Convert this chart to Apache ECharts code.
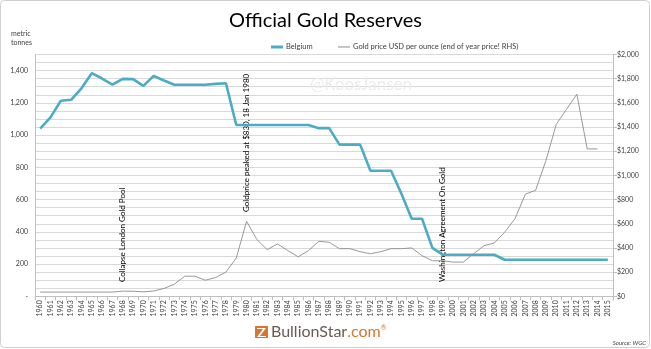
<!DOCTYPE html>
<html><head><meta charset="utf-8">
<script src="https://cdn.jsdelivr.net/npm/echarts@6/dist/echarts.min.js"></script>
<style>html,body{margin:0;padding:0;background:#fff}#c{width:651px;height:349px}</style>
</head><body><div id="c"></div>
<script>
var years = [];
for (var y = 1960; y <= 2015; y++) years.push(String(y));
var belgium = [1040,1110,1213,1219,1290,1384,1351,1313,1349,1347,1305,1367,1339,1312,1312,1312,1312,1318,1322,1063,
1063,1063,1063,1063,1063,1063,1063,1043,1043,941,941,941,779,779,779,636,481,481,300,258,
258,258,258,258,258,227,227,227,227,227,227,227,227,227,227,227];
var goldPrice = [35,35,35,35,35,35,35,35,43,42,37,44,65,100,166,166,133,155,200,317,
620,469,386,433,378,327,378,455,447,394,394,369,352,369,394,394,400,336,294,294,
283,283,352,419,441,530,641,844,877,1122,1422,1547,1672,1219,1219,null];
var leftTicks = [0,200,400,600,800,1000,1200,1400];
var rightTicks = [0,200,400,600,800,1000,1200,1400,1600,1800,2000];
var notes = [
  {year:'1968', text:'Collapse London Gold Pool', base:282},
  {year:'1980', text:'Goldprice peaked at $830, 18 Jan 1980', base:212},
  {year:'1999', text:'Washington Agreement On Gold', base:282}
];
var FONT = 'Lato, "Open Sans", sans-serif';
var S1 = 'Belgium', S2 = 'Gold price USD per ounce (end of year price! RHS)';
var chart = echarts.init(document.getElementById('c'));
function fmtNum(v){return v===0?'-':v.toLocaleString('en-US');}
chart.setOption({
  animation:false,
  textStyle:{fontFamily:FONT},
  title:{text:'Official Gold Reserves',left:'center',top:6,textStyle:{fontFamily:FONT,fontSize:20,fontWeight:'normal',color:'#000'}},
  legend:[
    {top:38,left:266,itemGap:4,itemWidth:12,itemHeight:3,textStyle:{fontFamily:FONT,fontSize:7.5,color:'#404040',padding:[0,0,0,-2]},
     data:[{name:S1,icon:'rect'}]},
    {top:38,left:333,itemGap:4,itemWidth:12,itemHeight:1,textStyle:{fontFamily:FONT,fontSize:7.5,color:'#404040',padding:[0,0,0,-2]},
     data:[{name:S2,icon:'rect'}]}
  ],
  grid:{left:35,right:38,top:54.5,bottom:52.7},
  xAxis:{type:'category',data:years,boundaryGap:true,
    axisLine:{lineStyle:{color:'#bfbfbf',width:1}},
    axisTick:{show:true,length:4,lineStyle:{color:'#bfbfbf'}},
    axisLabel:{rotate:90,fontSize:7,color:'#404040',margin:4,interval:0,fontFamily:FONT}},
  yAxis:[
    {type:'value',min:0,max:1500,interval:50,
     axisLine:{show:true,lineStyle:{color:'#bfbfbf'}},axisTick:{show:false},
     splitLine:{show:true,lineStyle:{color:'#d9d9d9',width:1}},
     axisLabel:{fontSize:7,color:'#404040',margin:7,fontFamily:FONT,
       formatter:function(v){return leftTicks.indexOf(v)>=0?fmtNum(v):'';}}},
    {type:'value',min:0,max:2000,interval:200,position:'right',
     axisLine:{show:true,lineStyle:{color:'#bfbfbf'}},
     axisTick:{show:true,length:4,lineStyle:{color:'#bfbfbf'}},
     splitLine:{show:false},
     axisLabel:{fontSize:7,color:'#404040',margin:4,fontFamily:FONT,
       formatter:function(v){return rightTicks.indexOf(v)>=0?'$'+v.toLocaleString('en-US'):'';}}}
  ],
  series:[
    {name:S1,type:'line',yAxisIndex:0,data:belgium,symbol:'none',
     lineStyle:{color:'#4bacc6',width:2.6},itemStyle:{color:'#4bacc6'},z:2},
    {name:S2,type:'line',yAxisIndex:1,data:goldPrice,symbol:'none',
     lineStyle:{color:'#8c8c8c',width:0.9},itemStyle:{color:'#8c8c8c'},z:3}
  ]
});
var g = [
  {type:'rect',shape:{x:0.5,y:0.5,width:649,height:347,r:4},style:{fill:'none',stroke:'#d0d0d0',lineWidth:1},silent:true,z:-1},
  {type:'text',x:11,y:29,style:{text:'metric\ntonnes',fontSize:7,fill:'#404040',fontFamily:FONT,lineHeight:9}},
  {type:'text',x:310,y:76,style:{text:'@KoosJansen',fontSize:17,fill:'#ececec',fontFamily:FONT}},
  {type:'text',x:646,y:343,style:{text:'Source: WGC',fontSize:6,fill:'#404040',fontStyle:'italic',fontFamily:FONT,textAlign:'right',textVerticalAlign:'middle'}},
  {type:'rect',shape:{x:255,y:326,width:13,height:12},style:{fill:'#d9752f'}},
  {type:'polygon',shape:{points:[[257,328],[266,328],[260,336],[266,336],[266,337],[257,337],[263,329],[257,329]]},style:{fill:'#fff'}},
  {type:'text',x:271,y:332,style:{rich:{a:{fontSize:16,fill:'#6a5a52',fontFamily:FONT},b:{fontSize:16,fill:'#d9752f',fontFamily:FONT},c:{fontSize:7,fill:'#d9752f',verticalAlign:'top',fontFamily:FONT}},text:'{a|BullionStar}{b|.com}{c|®}',textVerticalAlign:'middle'}}
];
notes.forEach(function(n){
  var px = chart.convertToPixel({xAxisIndex:0}, n.year);
  g.push({type:'text',x:px,y:n.base,rotation:Math.PI/2,
    style:{text:n.text,fontSize:8,fill:'#000',fontFamily:FONT,textAlign:'left',textVerticalAlign:'middle'}});
});
chart.setOption({graphic:g});
</script></body></html>
